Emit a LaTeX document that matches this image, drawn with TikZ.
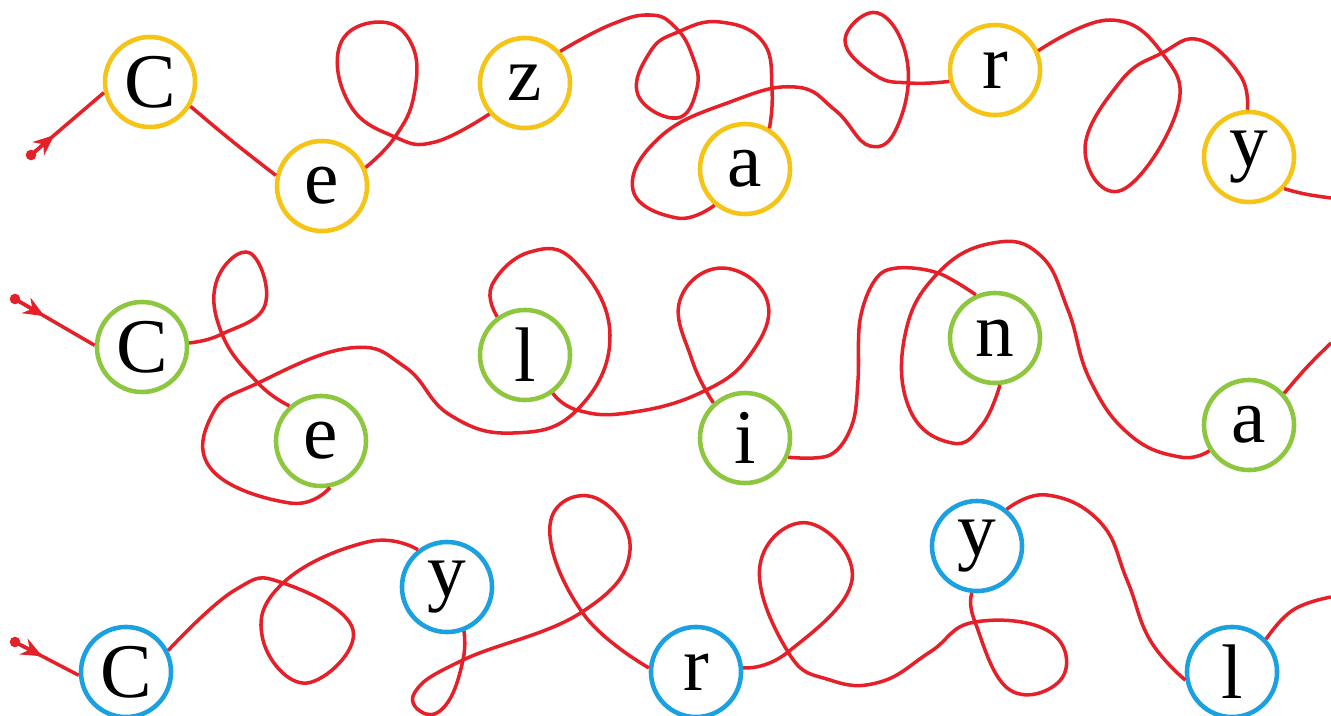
\documentclass[tikz,border=0pt]{standalone}
\usepackage{fontspec}
\setmainfont{Liberation Serif}
\usepackage{tikz}
\usetikzlibrary{arrows.meta, calc}
\definecolor{ropered}{RGB}{230, 32, 40}
\definecolor{cezyellow}{RGB}{245, 196, 22}
\definecolor{celgreen}{RGB}{141, 198, 63}
\definecolor{cyrblue}{RGB}{27, 161, 226}

\begin{document}
\begin{tikzpicture}[x=0.01cm, y=-0.01cm,
  letter/.style={circle, draw, line width=1.3pt, fill=white, minimum size=0.9cm, inner sep=0pt, font=\fontsize{22}{24}\selectfont},
  rope/.style={ropered, line width=1pt},
  curvy/.style={smooth, tension=0.75},
  tip/.style={-{Stealth[length=6pt, width=5pt]}}]
  \useasboundingbox (0,0) rectangle (1331,715);
  \clip (0,0) rectangle (1331,715);
  \foreach \n/\x/\y/\t in {c1/150/82/C, e1/322/186/e, z1/525/83/z, a1/745/169/a, r1/995/70/r, y1/1249/157/y}
    \node[letter, draw=cezyellow] (\n) at (\x,\y) {\t};
  \foreach \n/\x/\y/\t in {c2/142/347/C, e2/321/441/e, l2/525/355/l, i2/745/438/i, n2/995/338/n, a2/1249/425/a}
    \node[letter, draw=celgreen] (\n) at (\x,\y) {\t};
  \foreach \n/\x/\y/\t in {c3/126/672/C, y3/447/587/y, r3/696/672/r, yy3/977/546/y, l3/1232/672/l}
    \node[letter, draw=cyrblue] (\n) at (\x,\y) {\t};
  \coordinate (s1) at (31,155);
  \coordinate (s2) at (15,299);
  \coordinate (s3) at (15,642);
  \foreach \s in {s1,s2,s3} \fill[ropered] (\s) circle (1.5pt);

  \draw[rope] (s1) -- (c1.193);
  \draw[rope, tip] (s1) -- ($(s1)!0.32!(c1.193)$);
  \draw[rope] plot[curvy] coordinates {(c1.-31) (232,141) (e1.167)};
  \draw[rope] plot[curvy] coordinates {(e1.23) (395,137) (414,95) (412,45) (380,22) (340,45) (350,105) (395,137) (435,142) (z1.221)};
  \draw[rope] plot[curvy] coordinates {(z1.42) (610,25) (650,15) (675,27) (692,55) (697,88) (677,118) (638,95) (650,52) (678,32) (720,22) (763,42) (772,90) (a1.59)};
  \draw[rope] plot[curvy] coordinates {(a1.230) (677,218) (633,190) (660,137) (730,102) (795,87) (835,110) (870,146) (898,125) (907,60) (878,13) (845,40) (875,75) (910,83) (r1.194)};
  \draw[rope] plot[curvy] coordinates {(r1.24) (1110,20) (1162,53) (1177,110) (1122,190) (1085,150) (1120,82) (1162,53) (1200,40) (1240,75) (y1.92)};
  \draw[rope] plot[curvy] coordinates {(y1.-42) (1305,194) (1331,198)};

  \draw[rope] (s2) -- (c2.178);
  \draw[rope, tip] (s2) -- ($(s2)!0.37!(c2.178)$);
  \draw[rope] plot[curvy] coordinates {(c2.5) (222,334) (265,305) (250,253) (217,280) (222,334) (258,383) (e2.132)};
  \draw[rope] plot[curvy] coordinates {(e2.-79) (290,503) (212,470) (213,413) (258,383) (350,348) (405,367) (450,415) (513,433) (577,410) (610,335) (575,262) (530,252) (492,285) (l2.126)};
  \draw[rope] plot[curvy] coordinates {(l2.-54) (577,410) (627,413) (700,393) (750,355) (767,300) (722,268) (680,300) (692,360) (i2.132)};
  \draw[rope] plot[smooth, tension=0.6] coordinates {(i2.-24) (830,455) (852,425) (858,380) (860,320) (875,280) (897,268) (938,273) (n2.114)};
  \draw[rope] plot[curvy] coordinates {(n2.-84) (982,425) (952,443) (910,410) (905,335) (938,273) (993,243) (1040,255) (1068,310) (1090,380) (1130,435) (1180,457) (a2.213)};
  \draw[rope] plot[curvy] coordinates {(a2.42) (1307,367) (1331,343)};

  \draw[rope] (s3) -- (c3.184);
  \draw[rope, tip] (s3) -- ($(s3)!0.43!(c3.184)$);
  \draw[rope] plot[curvy] coordinates {(c3.27) (235,590) (283,583) (353,630) (307,683) (263,640) (283,583) (367,542) (y3.128)};
  \draw[rope] plot[curvy] coordinates {(y3.-69) (463,660) (448,702) (426,714) (415,692) (463,660) (582,612) (630,550) (593,497) (550,525) (582,612) (r3.175)};
  \draw[rope] plot[curvy] coordinates {(r3.5) (788,652) (852,580) (808,523) (760,565) (788,652) (830,680) (880,682) (930,652) (975,622) (1050,632) (1062,678) (1010,690) (975,622) (yy3.-96)};
  \draw[rope] plot[curvy] coordinates {(yy3.51) (1047,495) (1100,522) (1127,580) (1150,640) (l3.190)};
  \draw[rope] plot[curvy] coordinates {(l3.44) (1293,610) (1331,597)};
\end{tikzpicture}
\end{document}
